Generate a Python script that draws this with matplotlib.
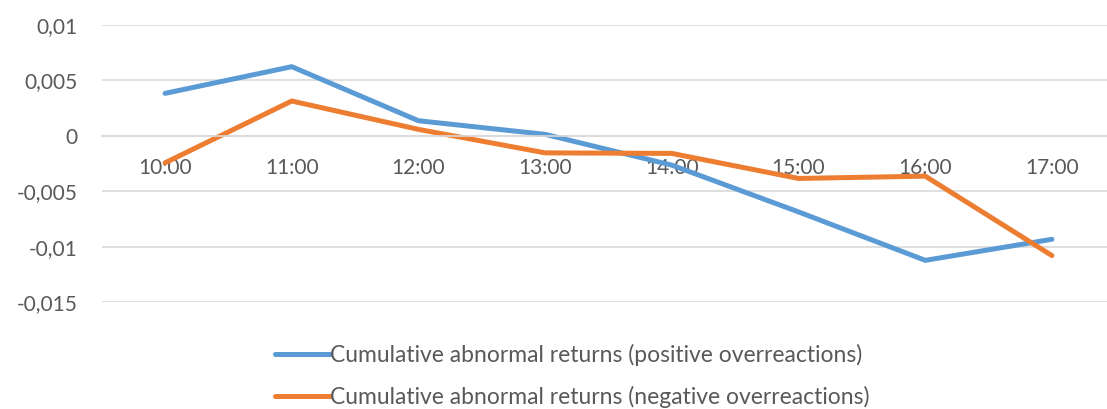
import matplotlib.pyplot as plt

hours = ["10:00", "11:00", "12:00", "13:00", "14:00", "15:00", "16:00", "17:00"]
positive = [0.00383, 0.00624, 0.00136, 0.00013, -0.00265, -0.00687, -0.01124, -0.00934]
negative = [-0.00244, 0.00314, 0.00058, -0.00154, -0.00159, -0.00385, -0.00364, -0.01081]
yticks = [-0.015, -0.01, -0.005, 0, 0.005, 0.01]
ytick_labels = ["-0,015", "-0,01", "-0,005", "0", "0,005", "0,01"]

plt.rcParams['font.family'] = ['Lato', 'DejaVu Sans']
text_color = '#595959'
grid_color = '#D9D9D9'

fig = plt.figure(figsize=(11.07, 4.09), dpi=100)
ax = fig.add_axes([101.7 / 1107, 1 - 302 / 409, 1013.6 / 1107, 277 / 409])

x = list(range(len(hours)))
ax.plot(x, positive, color='#5B9BD5', lw=3.6, solid_capstyle='round', solid_joinstyle='round',
        label="Cumulative abnormal returns (positive overreactions)")
ax.plot(x, negative, color='#ED7D31', lw=3.6, solid_capstyle='round', solid_joinstyle='round',
        label="Cumulative abnormal returns (negative overreactions)")

ax.set_xlim(-0.5, len(hours) - 0.5)
ax.set_ylim(-0.015, 0.01)
ax.set_yticks(yticks)
ax.set_yticklabels(ytick_labels)
ax.set_xticks(x)
ax.set_xticklabels(hours)

ax.grid(axis='y', color=grid_color, lw=1.2)
ax.set_axisbelow(True)
for side in ['top', 'right', 'left']:
    ax.spines[side].set_visible(False)
ax.spines['bottom'].set_position(('data', 0))
ax.spines['bottom'].set_color(grid_color)
ax.spines['bottom'].set_linewidth(1.2)

ax.tick_params(axis='y', length=0, pad=17.5, labelsize=15, labelcolor=text_color)
ax.tick_params(axis='x', length=0, pad=16, labelsize=15, labelcolor=text_color)

fig.legend(loc='center', bbox_to_anchor=(572 / 1107, 1 - 376 / 409), ncol=1, frameon=False,
           fontsize=16.5, labelcolor=text_color, handlelength=2.4, handletextpad=0.0,
           labelspacing=0.88, borderpad=0)

fig.savefig('out.png', dpi=100)
